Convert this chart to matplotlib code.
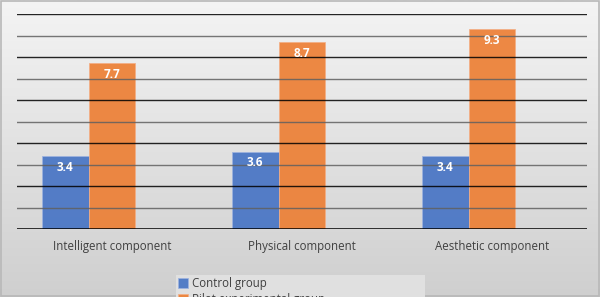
import numpy as np
import matplotlib
matplotlib.use("Agg")
import matplotlib.pyplot as plt
from matplotlib.patches import Rectangle

categories = ["Intelligent component", "Physical component", "Aesthetic component"]
control = [3.4, 3.6, 3.4]
experimental = [7.7, 8.7, 9.3]
series_names = ["Control group", "Pilot experimental group"]

BLUE = "#4472c4"
ORANGE = "#ed7d31"

plt.rcParams["font.family"] = ["Open Sans", "DejaVu Sans"]

fig = plt.figure(figsize=(6.0, 2.97), dpi=100)

# gradient background + thin border
bg = fig.add_axes([0, 0, 1, 1], zorder=-10)
grad = np.linspace(0, 1, 256).reshape(-1, 1)
bg.imshow(grad, aspect="auto", cmap=matplotlib.colors.LinearSegmentedColormap.from_list(
    "g", ["#f4f4f4", "#cfcfcf"]), extent=[0, 1, 0, 1], origin="upper")
bg.add_patch(Rectangle((0.002, 0.003), 0.996, 0.994, fill=False, ec="#b8b8b8", lw=1.2))
bg.set_xlim(0, 1); bg.set_ylim(0, 1)
bg.axis("off")

ax = fig.add_axes([17 / 600, 1 - 229 / 297, 570 / 600, 215 / 297])
ax.patch.set_alpha(0)
x = np.arange(len(categories))
w = 0.247
# slot for a third (empty) series sits right of the orange bar, as in the original
b1 = ax.bar(x - w, control, w, color=BLUE, ec="#9db3df", lw=0.6, alpha=0.9, zorder=2)
b2 = ax.bar(x, experimental, w, color=ORANGE, ec="#f3ae85", lw=0.6, alpha=0.9, zorder=2)

for i in range(11):
    ax.axhline(i, color="black" if i % 2 == 0 else "#606060", lw=1.3 if i == 0 else 1.0,
               alpha=0.85, zorder=3)

for bars in (b1, b2):
    for r in bars:
        ax.text(r.get_x() + r.get_width() / 2, r.get_height() - 0.22, f"{r.get_height():.1f}",
                ha="center", va="top", color="white", fontsize=8.5, fontweight="bold", zorder=4)

ax.set_xlim(-0.5, 2.5)
ax.set_ylim(0, 10)
ax.set_xticks(x)
ax.set_xticklabels(categories, fontsize=8.3, color="#404040")
ax.tick_params(axis="x", length=0, pad=8)
ax.set_yticks([])
for s in ax.spines.values():
    s.set_visible(False)

leg = fig.legend([b1, b2], series_names, loc="upper left",
                 bbox_to_anchor=(176 / 600, 1 - 275 / 297, 249 / 600, 0.0), mode="expand",
                 ncol=1, fontsize=8.3, frameon=True, fancybox=False, handlelength=0.9,
                 handleheight=0.9, handletextpad=0.3, borderpad=0.15, labelspacing=0.25,
                 borderaxespad=0, labelcolor="#404040")
leg.get_frame().set_facecolor("#e0e0e0")
leg.get_frame().set_edgecolor("none")
leg.get_frame().set_alpha(1)

fig.savefig("out.png", dpi=100)
